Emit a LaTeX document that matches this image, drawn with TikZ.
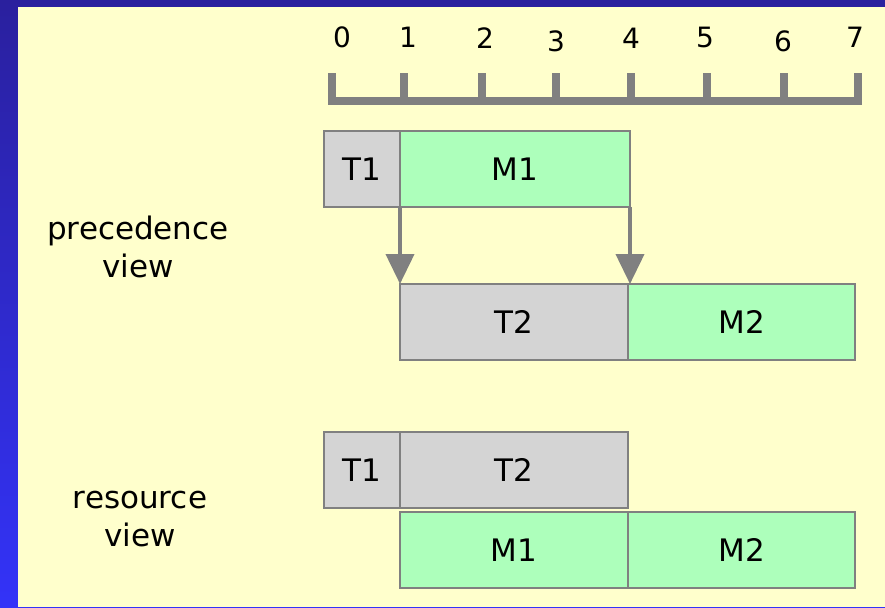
\documentclass[tikz,border=0pt]{standalone}
\usepackage{fontspec}
\setmainfont{DejaVu Sans}
\usepackage{tikz}
\usetikzlibrary{positioning, arrows.meta}

\definecolor{bgyellow}{HTML}{FFFFCC}
\definecolor{bartop}{HTML}{2A209E}
\definecolor{barbottom}{HTML}{3333F8}
\definecolor{taskgray}{HTML}{D4D4D4}
\definecolor{machgreen}{HTML}{ADFFBB}
\definecolor{edgegray}{HTML}{808080}

\begin{document}
\begin{tikzpicture}[
        x=0.5pt, y=-0.5pt,
        every node/.style={font=\fontsize{15.5}{19}\selectfont, inner sep=0pt},
        task/.style={rectangle, draw=edgegray, line width=0.9pt, outer sep=0pt, fill=taskgray, minimum height=38pt, anchor=north west},
        mach/.style={task, fill=machgreen},
        axis/.style={draw=edgegray, line width=3.75pt},
        dep/.style={draw=edgegray, line width=2pt, -{Triangle[width=14pt, length=15pt]}},
        node distance=0pt
    ]

    % Background and frame
    \useasboundingbox (0,0) rectangle (885,607);
    \shade[top color=bartop, bottom color=barbottom] (0,0) rectangle (885,607);
    \fill[bgyellow] (18,7) rectangle (885,607);

    % Time axis
    \draw[axis] (328,101) -- (862,101);
    \foreach \x in {332,404,482,556,631,707,784,858}
        \draw[axis] (\x,73) -- (\x,101);
    \foreach \x/\l/\y in {342/0/37, 408/1/37, 485/2/38, 556/3/41, 631/4/38, 705/5/37, 783/6/41, 855/7/37}
        \node[font=\fontsize{14}{17}\selectfont] (tick\l) at (\x,\y) {\l};

    % Precedence view
    \node[align=center] (prec) at (138,247) {precedence\\view};
    \node[task, minimum width=38pt] (t1) at (324,131) {T1};
    \node[mach, minimum width=115pt] (m1) [right=of t1] {M1};
    \node[task, minimum width=114pt] (t2) at (400,284) {T2};
    \node[mach, minimum width=113.5pt] (m2) [right=of t2] {M2};

    % Dependencies
    \draw[dep] (t1.south east) -- (t2.north west);
    \draw[dep] (m1.south east) -- (m1.south east |- m2.north west);

    % Resource view
    \node[align=center] (res) at (140,519) {resource\\view};
    \node[task, minimum width=38pt] (rt1) at (324,432) {T1};
    \node[task, minimum width=114pt] (rt2) [right=of rt1] {T2};
    \node[mach, minimum width=114pt] (rm1) at (400,512) {M1};
    \node[mach, minimum width=113.5pt] (rm2) [right=of rm1] {M2};

\end{tikzpicture}
\end{document}
